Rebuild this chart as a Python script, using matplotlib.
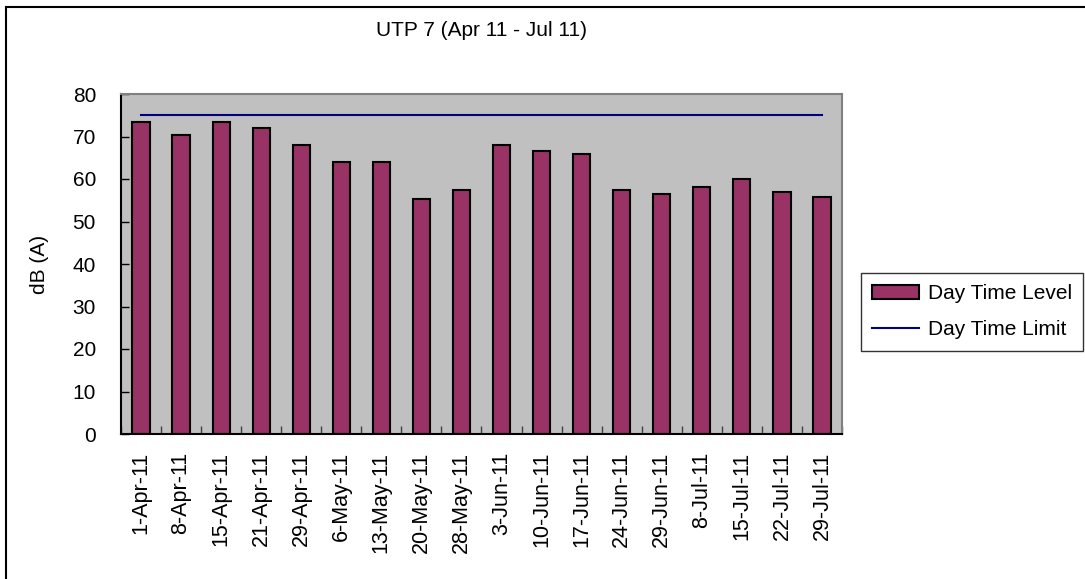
import matplotlib
matplotlib.use("Agg")
import matplotlib.pyplot as plt
from matplotlib.lines import Line2D
import numpy as np

plt.rcParams['font.family'] = ['Liberation Sans', 'DejaVu Sans']

dates = ["1-Apr-11", "8-Apr-11", "15-Apr-11", "21-Apr-11", "29-Apr-11", "6-May-11",
         "13-May-11", "20-May-11", "28-May-11", "3-Jun-11", "10-Jun-11", "17-Jun-11",
         "24-Jun-11", "29-Jun-11", "8-Jul-11", "15-Jul-11", "22-Jul-11", "29-Jul-11"]
day_level = [73.3, 70.4, 73.3, 72.1, 67.9, 64.1, 64.1, 55.2, 57.3, 67.9, 66.6, 65.8,
             57.3, 56.5, 58.2, 59.9, 56.9, 55.7]
day_limit = [75] * len(dates)
yticks = [0, 10, 20, 30, 40, 50, 60, 70, 80]

W, H = 1085, 579
fig = plt.figure(figsize=(W / 100, H / 100), dpi=100)
ax = fig.add_axes([121 / W, 1 - 434 / H, (842 - 121) / W, (434 - 94) / H])
ax.set_facecolor('#C0C0C0')

x = np.arange(len(dates))
bars = ax.bar(x, day_level, width=0.43, color='#993366', edgecolor='black', linewidth=1.5,
              label='Day Time Level', zorder=2)
line, = ax.plot(x, day_limit, color='#000080', linewidth=1.5, label='Day Time Limit', zorder=3)

ax.set_xlim(-0.5, len(dates) - 0.5)
ax.set_ylim(0, 80)
ax.set_yticks(yticks)
ax.set_yticklabels([str(v) for v in yticks], fontsize=15)
ax.set_xticks(x)
ax.set_xticklabels(dates, rotation=90, fontsize=15.5)
ax.tick_params(axis='x', length=0, pad=13)
ax.tick_params(axis='y', direction='in', length=6, width=1, pad=18)
ax.set_xticks(np.arange(-0.5, len(dates), 1), minor=True)
ax.tick_params(axis='x', which='minor', direction='in', length=6, width=1, color='#404040')

for s in ['top', 'right']:
    ax.spines[s].set_color('#808080')
    ax.spines[s].set_linewidth(1.5)
for s in ['left', 'bottom']:
    ax.spines[s].set_color('black')
    ax.spines[s].set_linewidth(1.5)

ax.set_ylabel('dB (A)', fontsize=15)
ax.yaxis.set_label_coords(-72 / (842 - 121), 0.5)

fig.text(481 / W, 1 - 31 / H, 'UTP 7 (Apr 11 - Jul 11)', ha='center', va='center', fontsize=15)

leg = fig.legend([bars, line], ['Day Time Level', 'Day Time Limit'],
                 loc='upper left', bbox_to_anchor=(861 / W, 1 - 273 / H), fontsize=15,
                 frameon=True, fancybox=False, edgecolor='black', borderpad=0.55,
                 handlelength=2.25, handleheight=0.65, handletextpad=0.4,
                 labelspacing=0.8, borderaxespad=0)
leg.get_frame().set_linewidth(1.0)

fig.add_artist(Line2D([6 / W, 1.0], [1 - 7 / H, 1 - 7 / H], color='black', linewidth=1.5,
                      transform=fig.transFigure))
fig.add_artist(Line2D([6 / W, 6 / W], [0, 1 - 7 / H], color='black', linewidth=1.5,
                      transform=fig.transFigure))

fig.savefig('out.png', dpi=100)
